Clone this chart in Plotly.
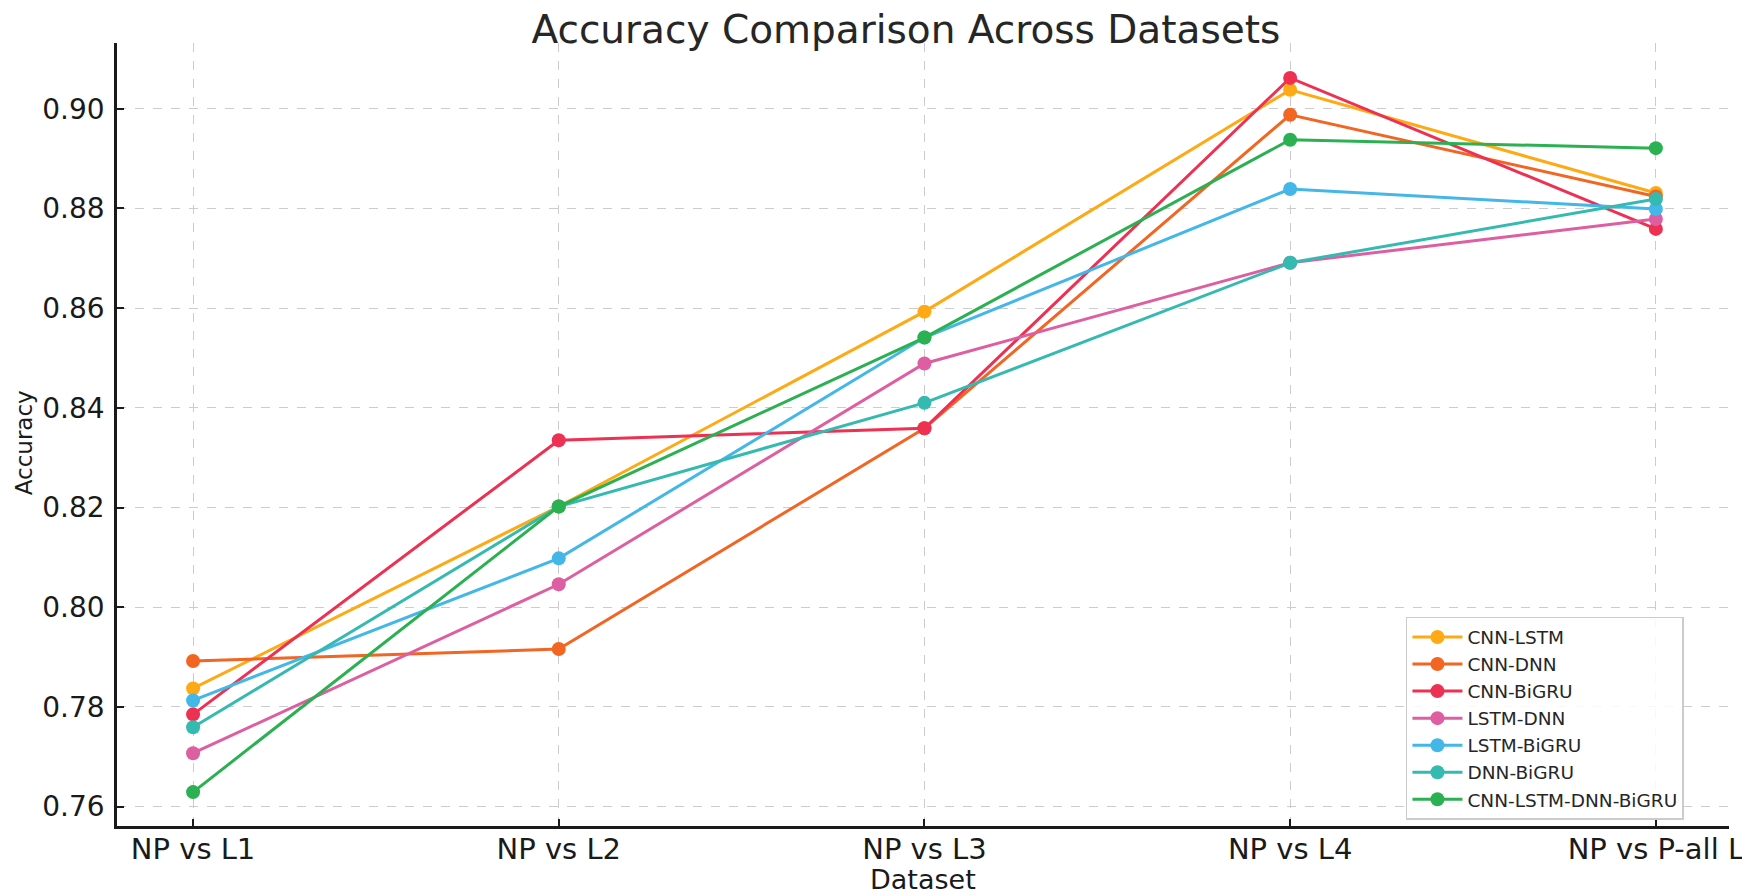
import plotly.graph_objects as go

datasets = ["NP vs L1", "NP vs L2", "NP vs L3", "NP vs L4", "NP vs P-all L"]

cnn_lstm = [0.7837, 0.8202, 0.8593, 0.9038, 0.8831]
cnn_dnn = [0.7892, 0.7916, 0.8359, 0.8988, 0.8824]
cnn_bigru = [0.7785, 0.8335, 0.8359, 0.9062, 0.8759]
lstm_dnn = [0.7707, 0.8046, 0.8489, 0.8691, 0.8779]
lstm_bigru = [0.7813, 0.8098, 0.8541, 0.8839, 0.8799]
dnn_bigru = [0.7759, 0.8202, 0.8410, 0.8691, 0.8819]
cnn_lstm_dnn_bigru = [0.7629, 0.8202, 0.8541, 0.8938, 0.8921]

series_names = ["CNN-LSTM", "CNN-DNN", "CNN-BiGRU", "LSTM-DNN", "LSTM-BiGRU", "DNN-BiGRU", "CNN-LSTM-DNN-BiGRU"]
series_values = [cnn_lstm, cnn_dnn, cnn_bigru, lstm_dnn, lstm_bigru, dnn_bigru, cnn_lstm_dnn_bigru]
colors = ["#FDAA14", "#F26522", "#EE3052", "#DE5EA2", "#42B7E8", "#35BAB2", "#2BB052"]

y_ticks = [0.76, 0.78, 0.80, 0.82, 0.84, 0.86, 0.88, 0.90]
y_tick_labels = ["0.76", "0.78", "0.80", "0.82", "0.84", "0.86", "0.88", "0.90"]

FONT = "DejaVu Sans"
TXT = "#1a1a1a"

fig = go.Figure()
for name, vals, col in zip(series_names, series_values, colors):
    fig.add_trace(go.Scatter(
        x=datasets, y=vals, name=name, mode="lines+markers",
        line=dict(color=col, width=3),
        marker=dict(color=col, size=14),
    ))

fig.update_layout(
    width=1750, height=893,
    margin=dict(l=109, r=29, t=35, b=75, autoexpand=False),
    paper_bgcolor="white", plot_bgcolor="white",
    font=dict(family=FONT, color=TXT),
    title=dict(text="Accuracy Comparison Across Datasets", x=0.5131, xanchor="center",
               y=0.991, yanchor="top", font=dict(family=FONT, size=39, color="#262626")),
    showlegend=True,
    legend=dict(x=0.7996, xanchor="left", y=0.0077, yanchor="bottom",
                bgcolor="rgba(255,255,255,0.85)", bordercolor="#cccccc", borderwidth=1.5,
                font=dict(family=FONT, size=18.5, color="#262626"),
                itemwidth=50, tracegroupgap=0),
    annotations=[
        dict(text="Accuracy", xref="paper", yref="paper", x=-0.0577, y=0.49,
             xanchor="center", yanchor="middle", textangle=-90, showarrow=False,
             font=dict(family=FONT, size=23, color=TXT)),
        dict(text="Dataset", xref="paper", yref="paper", x=0.5, y=-0.0677,
             xanchor="center", yanchor="middle", showarrow=False,
             font=dict(family=FONT, size=27, color=TXT)),
    ],
)

fig.update_xaxes(
    type="category", range=[-0.208, 4.2], automargin=False,
    showline=True, linecolor=TXT, linewidth=2.5, mirror=False,
    ticks="inside", ticklen=7, tickwidth=2, tickcolor=TXT,
    showgrid=True, gridcolor="#cccccc", griddash="dash", gridwidth=1,
    tickfont=dict(family=FONT, size=29, color=TXT),
    ticklabelstandoff=-5,
    zeroline=False,
)
fig.update_yaxes(
    range=[0.7561, 0.9132], automargin=False,
    tickvals=y_ticks, ticktext=y_tick_labels,
    showline=True, linecolor=TXT, linewidth=2.5, mirror=False,
    ticks="inside", ticklen=7, tickwidth=2, tickcolor=TXT,
    showgrid=True, gridcolor="#cccccc", griddash="dash", gridwidth=1,
    tickfont=dict(family=FONT, size=28, color=TXT),
    ticklabelstandoff=4,
    zeroline=False,
)

fig.write_html("out.html")
